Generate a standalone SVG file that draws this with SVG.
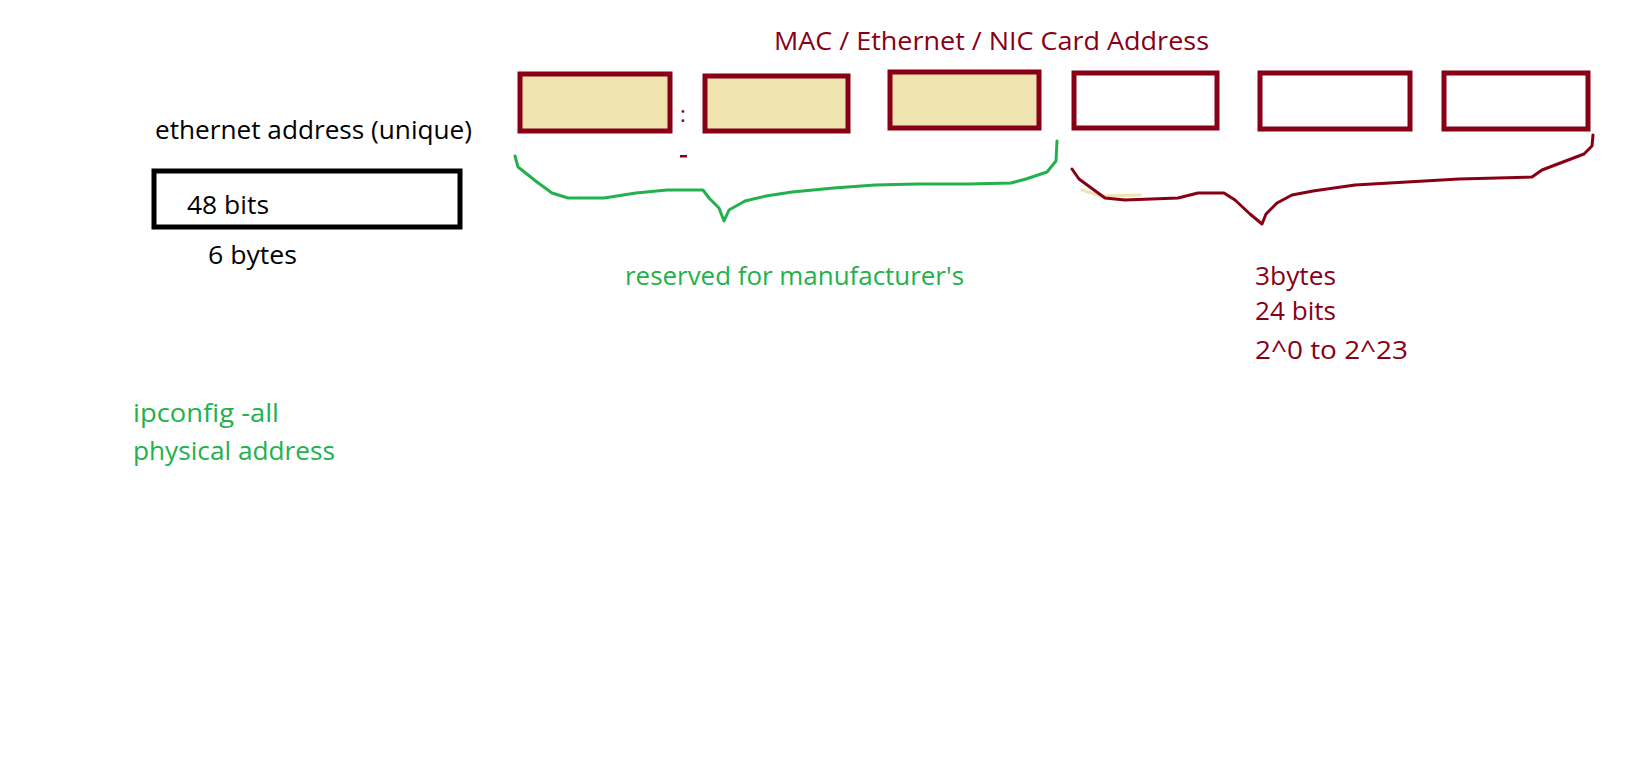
<svg xmlns="http://www.w3.org/2000/svg" width="1634" height="762" viewBox="0 0 1634 762">
<style>
.t{font-family:"Open Sans","Noto Sans","Liberation Sans",sans-serif;font-size:25px}
.red{fill:#880015}
.grn{fill:#22B14C}
.blk{fill:#000}
.box{stroke:#880015;stroke-width:5}
.fill{fill:#EFE4B0}
.empty{fill:#fff}
.brace{fill:none;stroke-width:3;stroke-linejoin:round;stroke-linecap:round}
</style>
<rect width="1634" height="762" fill="#fff"/>
<g id="title"><text class="t red" x="774" y="50" textLength="435" lengthAdjust="spacingAndGlyphs">MAC / Ethernet / NIC Card Address</text></g>
<g id="eth-label"><text class="t blk" x="155" y="139" textLength="317" lengthAdjust="spacingAndGlyphs">ethernet address (unique)</text></g>
<g id="eth-box">
<rect x="154" y="171" width="306" height="56" fill="#fff" stroke="#000" stroke-width="5"/>
<text class="t blk" x="187" y="214" textLength="82" lengthAdjust="spacingAndGlyphs">48 bits</text>
</g>
<g id="eth-bytes"><text class="t blk" x="208" y="264" textLength="89" lengthAdjust="spacingAndGlyphs">6 bytes</text></g>
<g id="byte1"><rect class="box fill" x="520" y="74" width="150" height="57"/></g>
<g id="sep"><text x="680" y="122" font-family="Open Sans, sans-serif" font-size="22" class="red">:</text><rect x="680" y="155" width="7" height="2.5" fill="#880015"/></g>
<g id="byte2"><rect class="box fill" x="705" y="76" width="143" height="55"/></g>
<g id="byte3"><rect class="box fill" x="890" y="72" width="149" height="56"/></g>
<g id="byte4"><rect class="box empty" x="1074" y="73" width="143" height="55"/></g>
<g id="byte5"><rect class="box empty" x="1260" y="73" width="150" height="56"/></g>
<g id="byte6"><rect class="box empty" x="1444" y="73" width="144" height="56"/></g>
<g id="connectors">
<polyline class="brace" stroke="#22B14C" points="515,156 518,167 537,182 552,193 568,198 604,198 636,193 667,190 703,190 709,198 719,208 724,221 729,210 745,201 766,196 792,192 834,188 875,185 917,184 969,184 1011,183 1026,179 1047,172 1056,161 1057,141"/>
<polyline class="brace" stroke="#EFE4B0" stroke-width="1.5" points="1082,190 1100,196 1140,195"/>
<polyline class="brace" stroke="#880015" points="1072,169 1079,179 1094,190 1105,198 1125,200 1178,198 1198,193 1224,193 1235,200 1250,214 1262,224 1266,214 1277,203 1292,195 1313,191 1355,185 1407,182 1459,179 1532,177 1542,170 1563,162 1584,154 1592,146 1593,135"/>
</g>
<g id="reserved"><text class="t grn" x="625" y="285" textLength="339" lengthAdjust="spacingAndGlyphs">reserved for manufacturer's</text></g>
<g id="nic-part">
<text class="t red" x="1255" y="285" textLength="81" lengthAdjust="spacingAndGlyphs">3bytes</text>
<text class="t red" x="1255" y="320" textLength="81" lengthAdjust="spacingAndGlyphs">24 bits</text>
<text class="t red" x="1255" y="359" textLength="153" lengthAdjust="spacingAndGlyphs">2^0 to 2^23</text>
</g>
<g id="ipconfig">
<text class="t grn" x="133" y="422" textLength="146" lengthAdjust="spacingAndGlyphs">ipconfig -all</text>
<text class="t grn" x="133" y="460" textLength="202" lengthAdjust="spacingAndGlyphs">physical address</text>
</g>
</svg>
